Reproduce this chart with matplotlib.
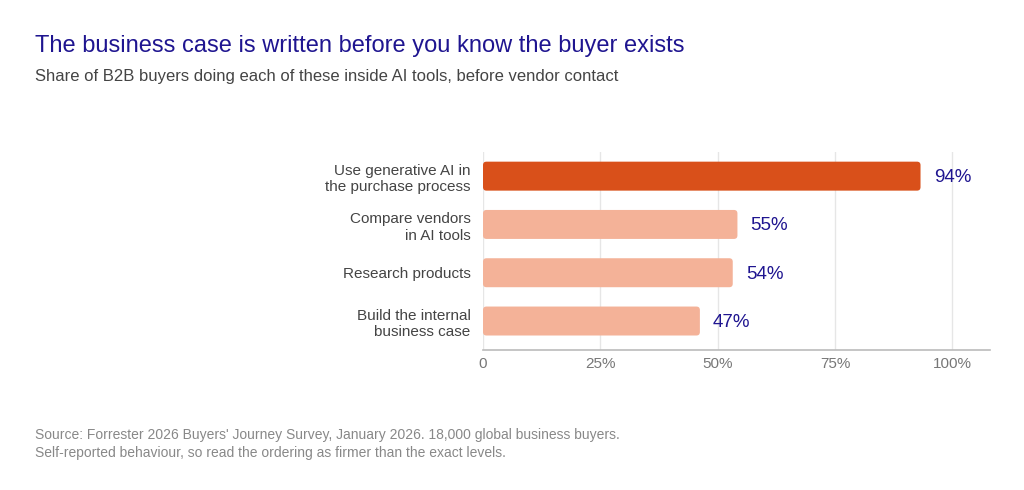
import numpy as np
import matplotlib
matplotlib.use("Agg")
import matplotlib.pyplot as plt
from matplotlib.patches import FancyBboxPatch

plt.rcParams['font.family'] = ['Liberation Sans', 'DejaVu Sans']

categories = ['Use generative AI in\nthe purchase process',
              'Compare vendors\nin AI tools',
              'Research products',
              'Build the internal\nbusiness case']
values = [94, 55, 54, 47]
highlight = [True, False, False, False]
tick_vals = [0, 25, 50, 75, 100]
tick_labels = ['0', '25%', '50%', '75%', '100%']

title = 'The business case is written before you know the buyer exists'
subtitle = 'Share of B2B buyers doing each of these inside AI tools, before vendor contact'
source = ("Source: Forrester 2026 Buyers' Journey Survey, January 2026. 18,000 global business buyers.\n"
          "Self-reported behaviour, so read the ordering as firmer than the exact levels.")

DARK = '#d9501a'
LIGHT = '#f4b298'
NAVY = '#1f1590'

fig = plt.figure(figsize=(10.24, 4.9), dpi=100)
ax = fig.add_axes([483 / 1024, 1 - 350 / 490, (990 - 483) / 1024, (350 - 152) / 490])

ypos = np.arange(len(values))
bar_h = 0.6
# rounding: x units -> px = 507/108, y units -> px = 198/4.1
xpx = (990 - 483) / 108
ypx = 198 / 4.1
r = 3.5 / xpx
for y, v, h in zip(ypos, values, highlight):
    p = FancyBboxPatch((0, y - bar_h / 2), v - 0.8, bar_h,
                       boxstyle=f"round,pad=0,rounding_size={r}",
                       mutation_aspect=(xpx / ypx),
                       facecolor=DARK if h else LIGHT, edgecolor='none', zorder=3)
    ax.add_patch(p)
    ax.text(v + 2.0, y + 0.03, f'{v}%', va='center', ha='left', fontsize=13.5,
            color=NAVY, zorder=4)

ax.set_xlim(0, 108)
ax.set_ylim(len(values) - 0.4, -0.5)
ax.set_xticks(tick_vals)
ax.set_xticklabels(tick_labels, fontsize=11, color='#777777')
ax.set_yticks(ypos)
ax.set_yticklabels(categories, fontsize=11, color='#444444', ha='right',
                   multialignment='right', linespacing=1.25)
ax.tick_params(axis='both', length=0)
ax.tick_params(axis='x', pad=5)
ax.tick_params(axis='y', pad=9)
ax.grid(axis='x', color='#e6e6e6', linewidth=1, zorder=0)
ax.set_axisbelow(True)
for s in ['top', 'right', 'left']:
    ax.spines[s].set_visible(False)
ax.spines['bottom'].set_color('#bbbbbb')
ax.spines['bottom'].set_linewidth(1.2)

fig.text(35 / 1024, 1 - 46 / 490, title, fontsize=17, color=NAVY, va='center', ha='left')
fig.text(35 / 1024, 1 - 77 / 490, subtitle, fontsize=12, color='#444444', va='center', ha='left')
fig.text(35 / 1024, 1 - 444 / 490, source, fontsize=10, color='#888888', va='center',
         ha='left', linespacing=1.3)

fig.savefig('out.png', dpi=100, facecolor='white')
